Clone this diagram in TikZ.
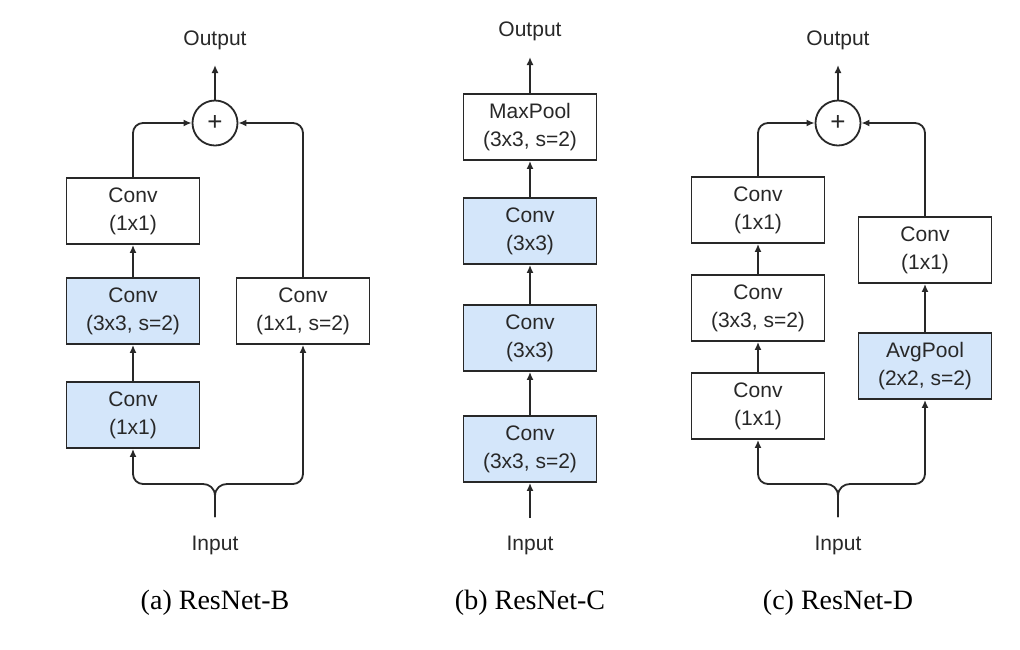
\documentclass[tikz,border=0pt]{standalone}
\usepackage{fontspec}
\setmainfont{Liberation Sans}
\newfontfamily\capfont{Liberation Serif}
\usepackage{tikz}
\usetikzlibrary{arrows.meta}
\definecolor{boxblue}{RGB}{212,230,250}
\definecolor{linegray}{RGB}{40,40,40}

\begin{document}
\begin{tikzpicture}[x=1pt,y=-1pt,
  every node/.style={text=linegray, font=\fontsize{21}{28}\selectfont},
  box/.style={draw=linegray, line width=1.8pt, fill=white, minimum width=133pt,
    minimum height=66pt, align=center, inner sep=0pt},
  bluebox/.style={box, fill=boxblue},
  sumnode/.style={draw=linegray, circle, line width=1.8pt, minimum size=45pt, inner sep=0pt,
    font=\fontsize{26}{28}\selectfont},
  link/.style={draw=linegray, line width=1.8pt},
  arr/.style={link, -{Latex[length=8pt,width=7pt]}},
  caption/.style={text=black, font=\capfont\fontsize{28}{32}\selectfont},
]
\useasboundingbox (0,0) rectangle (1020,649);

% (a) ResNet-B
\node[bluebox] (a1) at (133,415) {Conv\\(1x1)};
\node[bluebox] (a2) at (133,311) {Conv\\(3x3, s=2)};
\node[box] (a3) at (133,211) {Conv\\(1x1)};
\node[box] (sa) at (303,311) {Conv\\(1x1, s=2)};
\node[sumnode] (plusa) at (215,123) {+};
\node (outa) at (215,40) {Output};
\node (inpa) at (215,545) {Input};
\node[caption] (capa) at (215,603) {(a) ResNet-B};
\coordinate (otipa) at (215,65);
\coordinate (ina) at (215,517);
\draw[arr] (a1) -- (a2);
\draw[arr] (a2) -- (a3);
\draw[arr, rounded corners=10pt] (a3.north) |- (plusa.west);
\draw[arr, rounded corners=10pt] (sa.north) |- (plusa.east);
\draw[arr] (plusa.north) -- (otipa);
\draw[arr] (ina) -- ++(0,-21) .. controls +(0,-8) and +(6,0) .. ++(-12,-12)
  [rounded corners=10pt] -| (a1.south);
\draw[arr] (ina) -- ++(0,-21) .. controls +(0,-8) and +(-6,0) .. ++(12,-12)
  [rounded corners=10pt] -| (sa.south);

% (b) ResNet-C
\node[bluebox] (b1) at (530,449) {Conv\\(3x3, s=2)};
\node[bluebox] (b2) at (530,338) {Conv\\(3x3)};
\node[bluebox] (b3) at (530,231) {Conv\\(3x3)};
\node[box] (mp) at (530,127) {MaxPool\\(3x3, s=2)};
\node (outb) at (530,31) {Output};
\node (inpb) at (530,545) {Input};
\node[caption] (capb) at (530,603) {(b) ResNet-C};
\coordinate (otipb) at (530,57);
\coordinate (inb) at (530,518);
\draw[arr] (inb) -- (b1);
\draw[arr] (b1) -- (b2);
\draw[arr] (b2) -- (b3);
\draw[arr] (b3) -- (mp);
\draw[arr] (mp) -- (otipb);

% (c) ResNet-D
\node[box] (c1) at (758,406) {Conv\\(1x1)};
\node[box] (c2) at (758,308) {Conv\\(3x3, s=2)};
\node[box] (c3) at (758,210) {Conv\\(1x1)};
\node[bluebox] (ap) at (925,366) {AvgPool\\(2x2, s=2)};
\node[box] (sc) at (925,250) {Conv\\(1x1)};
\node[sumnode] (plusc) at (838,123) {+};
\node (outc) at (838,40) {Output};
\node (inpc) at (838,545) {Input};
\node[caption] (capc) at (838,603) {(c) ResNet-D};
\coordinate (otipc) at (838,65);
\coordinate (inc) at (838,517);
\draw[arr] (c1) -- (c2);
\draw[arr] (c2) -- (c3);
\draw[arr] (ap) -- (sc);
\draw[arr, rounded corners=10pt] (c3.north) |- (plusc.west);
\draw[arr, rounded corners=10pt] (sc.north) |- (plusc.east);
\draw[arr] (plusc.north) -- (otipc);
\draw[arr] (inc) -- ++(0,-21) .. controls +(0,-8) and +(6,0) .. ++(-12,-12)
  [rounded corners=10pt] -| (c1.south);
\draw[arr] (inc) -- ++(0,-21) .. controls +(0,-8) and +(-6,0) .. ++(12,-12)
  [rounded corners=10pt] -| (ap.south);
\end{tikzpicture}
\end{document}
